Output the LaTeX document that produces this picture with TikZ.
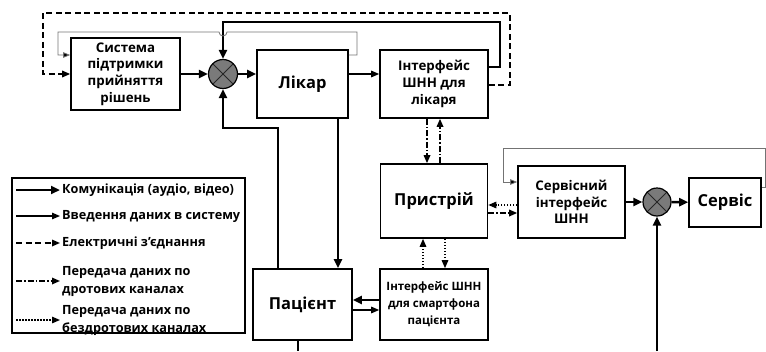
\documentclass[tikz,border=0pt]{standalone}
\usepackage{fontspec}
\setmainfont{Open Sans}
\usetikzlibrary{positioning, arrows.meta}

\begin{document}
\begin{tikzpicture}[
        x=1pt, y=-1pt,
        box/.style={draw, line width=1.6pt, align=center, inner sep=1pt, font=\bfseries\fontsize{13.3}{16.7}\selectfont},
        smallbox/.style={box, font=\bfseries\fontsize{11.5}{17}\selectfont},
        bigbox/.style={box, font=\bfseries\fontsize{16.5}{19}\selectfont},
        junction/.style={circle, draw, line width=1.2pt, fill=black!52, minimum size=29pt, inner sep=0pt,
            path picture={\draw[black!85, line width=1pt] (path picture bounding box.north west) -- (path picture bounding box.south east)
                (path picture bounding box.north east) -- (path picture bounding box.south west);}},
        comm/.style={line width=2.4pt, -{Triangle[length=9pt, width=8pt]}},
        datain/.style={line width=1.3pt, -{Triangle[length=8pt, width=6.5pt]}},
        elec/.style={line width=1.6pt, dash pattern=on 6pt off 3.5pt, -{Triangle[length=8pt, width=6.5pt]}},
        wired/.style={line width=1.6pt, dash pattern=on 6pt off 2pt on 1.5pt off 2pt, -{Triangle[length=8pt, width=6.5pt]}},
        wireless/.style={line width=1.4pt, dash pattern=on 1.5pt off 1.5pt, -{Triangle[length=8pt, width=6.5pt]}},
        feed/.style={line width=0.8pt, black!55, -{Triangle[length=7pt, width=5.5pt, fill=black]}},
        legtext/.style={align=left, inner sep=0pt, font=\bfseries\fontsize{12.7}{18}\selectfont}
    ]
    \useasboundingbox (0,0) rectangle (766,351);
    % blocks
    \node[box, minimum width=109pt, minimum height=72pt] (Sys) at (125.5,74) {Система\\підтримки\\прийняття\\рішень};
    \node[junction] (J1) at (223,74) {};
    \node[bigbox, minimum width=91pt, minimum height=68pt] (Likar) at (302.5,84) {Лікар};
    \node[box, minimum width=108pt, minimum height=68pt] (IntLikar) at (434,84) {Інтерфейс\\ШНН для\\лікаря};
    \node[bigbox, minimum width=107pt, minimum height=74pt] (Device) at (434,201) {Пристрій};
    \node[box, minimum width=107pt, minimum height=72pt] (IntServ) at (571.5,202) {Сервісний\\інтерфейс\\ШНН};
    \node[junction, minimum size=28pt] (J2) at (657,202) {};
    \node[bigbox, minimum width=72pt, minimum height=49pt] (Serv) at (725,202.5) {Сервіс};
    \node[bigbox, minimum width=99pt, minimum height=71pt] (Patient) at (302.5,304.5) {Пацієнт};
    \node[smallbox, minimum width=108pt, minimum height=71pt] (IntPhone) at (434,304.5) {Інтерфейс ШНН\\для смартфона\\пацієнта};
    \coordinate (ServIn) at (657,351);
    \coordinate (PatOut) at (298,351);

    % loops at the top
    \draw[elec] ([yshift=-1pt]IntLikar.east) -| (510,13) -| (43,74) -- (Sys.west);
    \draw[comm] ([yshift=17pt]IntLikar.east) -| (500,22) -| (J1.north);
    \draw[feed] ([yshift=29pt]Likar.east) -| (357,32) -- (227,32) arc[start angle=0, end angle=180, radius=4]
        -- (58,32) |- ([yshift=19pt]Sys.west);

    % doctor side
    \draw[comm] (Sys) -- (J1);
    \draw[comm] (J1.east) -- (J1.east -| Likar.west);
    \draw[datain] ([yshift=10pt]Likar.east) -- ([yshift=10pt]IntLikar.west);
    \draw[comm] ([xshift=-24.5pt]Patient.north) |- (223,128) -- (J1.south);
    \draw[comm] ([xshift=35.5pt]Likar.south) -- ([xshift=35.5pt]Likar.south |- Patient.north);
    \draw[wired] ([xshift=-7pt]IntLikar.south) -- ([xshift=-7pt]Device.north);
    \draw[wired] ([xshift=6pt]Device.north) -- ([xshift=6pt]IntLikar.south);

    % device and service
    \draw[wireless] ([yshift=-3pt]IntServ.west) -- ([yshift=-3pt]IntServ.west -| Device.east);
    \draw[wired] ([yshift=-12pt]Device.east) -- ([yshift=-12pt]Device.east -| IntServ.west);
    \draw[comm] (IntServ) -- (J2);
    \draw[comm] (J2) -- (Serv);
    \draw[comm] (ServIn) -- (J2.south);
    \draw[feed] ([yshift=15.5pt]Serv.east) -| (765,148) -| (503,182) -- ([yshift=20pt]IntServ.west);

    % patient side
    \draw[wireless] ([xshift=-11pt]IntPhone.north) -- ([xshift=-11pt]Device.south);
    \draw[wireless] ([xshift=11pt]Device.south) -- ([xshift=11pt]IntPhone.north);
    \draw[comm] ([yshift=4.5pt]IntPhone.west) -- ([yshift=4.5pt]IntPhone.west -| Patient.east);
    \draw[datain] ([yshift=-5.5pt]Patient.east) -- ([yshift=-5.5pt]Patient.east -| IntPhone.west);
    \draw[comm, -] ([xshift=-4.5pt]Patient.south) -- (PatOut);

    % legend
    \draw[line width=1.6pt] (12,178) rectangle (245,333);
    \coordinate (L1a) at (16,190); \coordinate (L1) at (60,190);
    \coordinate (L2a) at (16,216); \coordinate (L2) at (60,216);
    \coordinate (L3a) at (16,243); \coordinate (L3) at (60,243);
    \coordinate (L4a) at (16,281); \coordinate (L4) at (60,281);
    \coordinate (L5a) at (16,320); \coordinate (L5) at (60,320);
    \draw[comm] (L1a) -- (L1);
    \draw[datain] (L2a) -- (L2);
    \draw[elec] (L3a) -- (L3);
    \draw[wired] (L4a) -- (L4);
    \draw[wireless] (L5a) -- (L5);
    \node[legtext, right=2pt of L1] (T1) {Комунікація (аудіо, відео)};
    \node[legtext, right=2pt of L2] (T2) {Введення даних в систему};
    \node[legtext, right=2pt of L3] (T3) {Електричні з'єднання};
    \node[legtext, right=2pt of L4] (T4) {Передача даних по\\дротових каналах};
    \node[legtext, right=2pt of L5] (T5) {Передача даних по\\бездротових каналах};
\end{tikzpicture}
\end{document}
